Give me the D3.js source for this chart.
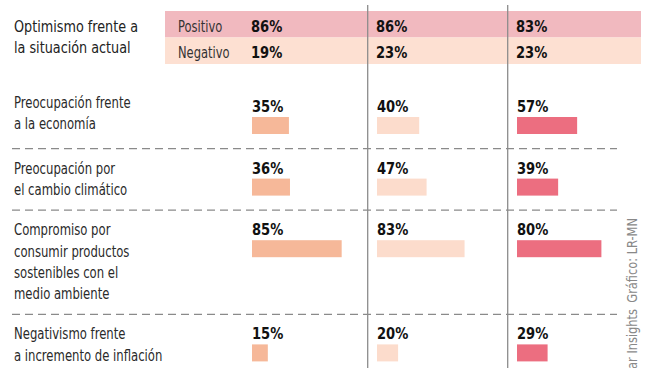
<!DOCTYPE html>
<html>
<head>
<meta charset="utf-8">
<script src="https://cdn.jsdelivr.net/npm/d3@7"></script>
<style>
  html, body { margin: 0; padding: 0; background: #fff; }
  svg { display: block; }
  text { font-family: "DejaVu Sans Condensed", "Liberation Sans Narrow", "Roboto", sans-serif; }
</style>
</head>
<body>
<svg id="chart" width="659" height="368"></svg>
<script>
// ---- Data ----
const headerLabel = ["Optimismo frente a", "la situación actual"];
const sentiments = ["Positivo", "Negativo"];
const positivo = [86, 86, 83];
const negativo = [19, 23, 23];
const columns = ["c1", "c2", "c3"];
const categories = [
  ["Preocupación frente", "a la economía"],
  ["Preocupación por", "el cambio climático"],
  ["Compromiso por", "consumir productos", "sostenibles con el", "medio ambiente"],
  ["Negativismo frente", "a incremento de inflación"]
];
const col1 = [35, 36, 85, 15];
const col2 = [40, 47, 83, 20];
const col3 = [57, 39, 80, 29];
const sourceParts = ["Fuente: Kantar Insights", "Gráfico: LR-MN"];

// ---- Layout ----
const svg = d3.select("#chart");
const W = 659, H = 368;
const series = [col1, col2, col3];
const colX = d3.scaleOrdinal().domain(columns).range([252, 377, 517]);
const colColor = d3.scaleOrdinal().domain(columns).range(["#f6b899", "#fcdccc", "#ec6e80"]);
const x = d3.scaleLinear().domain([0, 100]).range([0, 105.5]);
const lineH = 21.3;

// helper: condensed text via horizontal scaling
function ctext(sel, tx, ty, sx, str) {
  return sel.append("text")
    .attr("transform", `translate(${tx},${ty}) scale(${sx},1)`)
    .text(str);
}

// Top band (optimism)
const bandTop = 11, bandRowH = 26.5;
const bandY = d3.scaleBand().domain(sentiments).range([bandTop, bandTop + 2 * bandRowH]).padding(0);
const bandColor = d3.scaleOrdinal().domain(sentiments).range(["#f1b9bf", "#fde0d2"]);
const topVals = { "Positivo": positivo, "Negativo": negativo };

svg.selectAll("rect.band").data(sentiments).join("rect")
  .attr("class", "band")
  .attr("x", 165).attr("width", 641 - 165)
  .attr("y", d => bandY(d)).attr("height", bandY.bandwidth())
  .attr("fill", d => bandColor(d));

sentiments.forEach(s => {
  ctext(svg, 178, bandY(s) + 20.5, 0.8, s)
    .attr("font-size", 16).attr("fill", "#333");
  columns.forEach((c, i) => {
    ctext(svg, colX(c) - 1, bandY(s) + 20.5, 0.91, topVals[s][i] + "%")
      .attr("font-size", 16).attr("font-weight", "bold").attr("fill", "#111");
  });
});

headerLabel.forEach((d, i) => {
  ctext(svg, 14, 31.5 + i * 21, 0.89, d)
    .attr("font-size", 16).attr("fill", "#222");
});

// Rows
let start = 87;
const rows = categories.map((lines, i) => {
  const r = { lines, i, start };
  start += 19 + lineH * lines.length;
  r.end = start;
  return r;
});

const g = svg.append("g");
rows.forEach(r => {
  const base = r.start + 25;
  r.lines.forEach((d, j) => {
    ctext(g, 14, base - (r.i === 0 ? 4 : 0) + j * lineH, 0.81, d)
      .attr("font-size", 16).attr("fill", "#2a2a2a");
  });
  columns.forEach((c, ci) => {
    const v = series[ci][r.i];
    ctext(g, colX(c), base, 0.91, v + "%")
      .attr("font-size", 16).attr("font-weight", "bold").attr("fill", "#111");
    g.append("rect")
      .attr("x", colX(c)).attr("y", base + 5)
      .attr("width", x(v)).attr("height", 17)
      .attr("fill", colColor(c));
  });
  if (r.i < rows.length - 1) {
    g.append("line")
      .attr("x1", 12).attr("x2", 617)
      .attr("y1", r.end).attr("y2", r.end)
      .attr("stroke", "#8a8a8a").attr("stroke-width", 1.2)
      .attr("stroke-dasharray", "8,5");
  }
});

// Vertical separators
svg.selectAll("line.vsep").data([367.7, 507.7]).join("line")
  .attr("class", "vsep")
  .attr("x1", d => d).attr("x2", d => d)
  .attr("y1", 5).attr("y2", H)
  .attr("stroke", "#8c8c8c").attr("stroke-width", 1.3);

// Source text (rotated, reading bottom to top)
[[sourceParts[1], 218], [sourceParts[0], 309]].forEach(([t, y]) => {
  svg.append("text")
    .attr("transform", `translate(637,${y}) rotate(-90) scale(0.94,1)`)
    .attr("text-anchor", "end")
    .attr("font-size", 13.5).attr("fill", "#888")
    .text(t);
});
</script>
</body>
</html>
